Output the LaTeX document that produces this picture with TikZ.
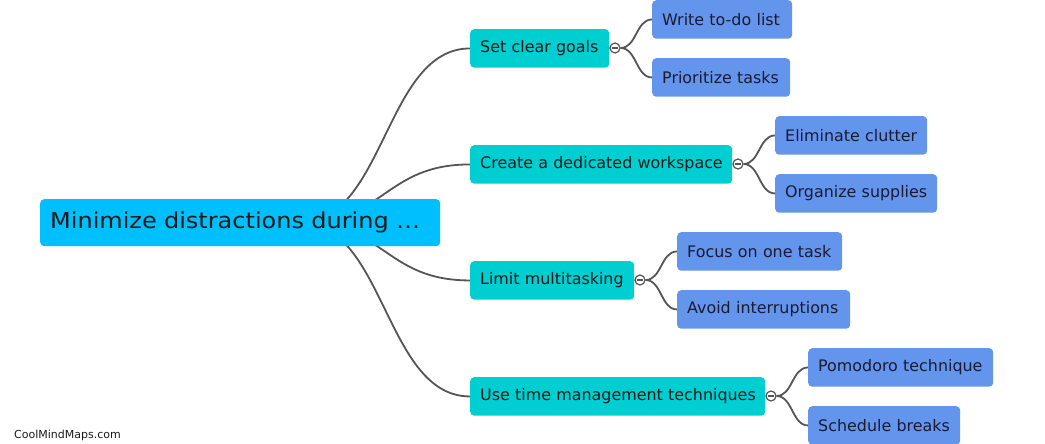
\documentclass[tikz,border=0pt]{standalone}
\usepackage{fontspec}
\setmainfont{DejaVu Sans}
\newfontfamily\rootfont[FakeStretch=1.09]{DejaVu Sans}
\usetikzlibrary{backgrounds,calc}
\definecolor{rootc}{HTML}{00BFFF}
\definecolor{midc}{HTML}{00CED1}
\definecolor{leafc}{HTML}{6495ED}
\definecolor{linec}{HTML}{555555}
\definecolor{txtc}{HTML}{1A1A1A}
\definecolor{leaftxt}{HTML}{1A1A33}
\tikzset{
  box/.style={anchor=north west, rounded corners=4pt, inner xsep=10pt, inner ysep=0pt, align=left, text=txtc},
  rootbox/.style={box, fill=rootc, minimum height=47pt, font=\rootfont\fontsize{22}{24}\selectfont},
  midbox/.style={box, fill=midc, minimum height=38.5pt, font=\fontsize{15.9}{18}\selectfont},
  leafbox/.style={box, fill=leafc, text=leaftxt, minimum height=38.5pt, font=\fontsize{15.9}{18}\selectfont},
  knob/.style={circle, draw=linec, fill=white, line width=1.2pt, minimum size=10pt, inner sep=0pt,
    path picture={\draw[linec, line width=1.4pt] ([xshift=-2.6pt]path picture bounding box.center) -- ([xshift=2.6pt]path picture bounding box.center);}},
  conn/.style={draw=linec, line width=1.8pt},
}
\begin{document}
\begin{tikzpicture}[x=1pt,y=-1pt]
\useasboundingbox (0,0) rectangle (1045,444);
% root
\node[rootbox, text width=380pt] (root) at (40,199) {\mbox{Minimize distractions during …}};
\coordinate (rs) at (300,222.5);
% level 1
\node[midbox, text width=119pt] (m1) at (470,29) {\mbox{Set clear goals}};
\node[midbox, text width=242pt] (m2) at (470,145) {\mbox{Create a dedicated workspace}};
\node[midbox, text width=144pt] (m3) at (470,261) {\mbox{Limit multitasking}};
\node[midbox, text width=275pt] (m4) at (470,377) {\mbox{Use time management techniques}};
% knobs
\node[knob] (k1) at (615,48) {};
\node[knob] (k2) at (738,164) {};
\node[knob] (k3) at (640,280) {};
\node[knob] (k4) at (771,396) {};
% leaves
\node[leafbox, text width=120pt] (l1) at (652,0) {\mbox{Write to-do list}};
\node[leafbox, text width=118pt] (l2) at (652,58) {\mbox{Prioritize tasks}};
\node[leafbox, text width=132pt] (l3) at (775,116) {\mbox{Eliminate clutter}};
\node[leafbox, text width=142pt] (l4) at (775,174) {\mbox{Organize supplies}};
\node[leafbox, text width=145pt] (l5) at (677,232) {\mbox{Focus on one task}};
\node[leafbox, text width=153pt] (l6) at (677,290) {\mbox{Avoid interruptions}};
\node[leafbox, text width=165pt] (l7) at (808,348) {\mbox{Pomodoro technique}};
\node[leafbox, text width=132pt] (l8) at (808,406) {\mbox{Schedule breaks}};
% watermark
\node[anchor=west, inner sep=0pt, text=txtc, font=\fontsize{11}{12}\selectfont] (wm) at (14,435) {CoolMindMaps.com};
\begin{scope}[on background layer]
  \foreach \m in {m1,m2,m3,m4}{
    \draw[conn] (rs) .. controls (385,222.5) and ($(\m.west)+(-85,0)$) .. (\m.west);
  }
  \draw[conn] (m1.east) -- (k1.west);
  \draw[conn] (m2.east) -- (k2.west);
  \draw[conn] (m3.east) -- (k3.west);
  \draw[conn] (m4.east) -- (k4.west);
  \foreach \k/\a/\b in {k1/l1/l2,k2/l3/l4,k3/l5/l6,k4/l7/l8}{
    \draw[conn] (\k.east) .. controls ($(\k.east)+(16,0)$) and ($(\a.west)+(-16,0)$) .. (\a.west);
    \draw[conn] (\k.east) .. controls ($(\k.east)+(16,0)$) and ($(\b.west)+(-16,0)$) .. (\b.west);
  }
\end{scope}
\end{tikzpicture}
\end{document}
